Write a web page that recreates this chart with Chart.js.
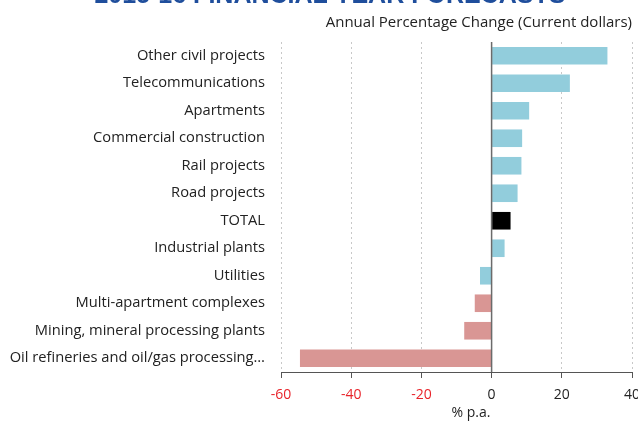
<!DOCTYPE html>
<html>
<head>
<meta charset="utf-8">
<script src="https://cdn.jsdelivr.net/npm/chart.js@4/dist/chart.umd.min.js"></script>
<style>
  html, body { margin: 0; padding: 0; background: #fff; overflow: hidden; }
  #wrap { width: 638px; height: 421px; overflow: hidden; position: relative; }
  #chart { position: absolute; left: 0; top: -18px; }
</style>
</head>
<body>
<div id="wrap"><canvas id="chart" width="638" height="439"></canvas></div>
<script>
const categories = [
  "Other civil projects",
  "Telecommunications",
  "Apartments",
  "Commercial construction",
  "Rail projects",
  "Road projects",
  "TOTAL",
  "Industrial plants",
  "Utilities",
  "Multi-apartment complexes",
  "Mining, mineral processing plants",
  "Oil refineries and oil/gas processing\u2026"
];
const changes = [33.0, 22.3, 10.7, 8.7, 8.5, 7.4, 5.4, 3.7, -3.3, -4.8, -7.8, -54.6];
const xTicks = [-60, -40, -20, 0, 20, 40];

const FONT = "'Open Sans', sans-serif";

// bar colours: TOTAL black, big declines red, rest light blue
const barColors = categories.map((c, i) => {
  if (c === "TOTAL") return "#000000";
  if (changes[i] < -4) return "#d99694";
  return "#92cddc";
});

// solid zero line drawn at the scale's own 0 position
const zeroLine = {
  id: "zeroLine",
  afterDatasetsDraw(chart) {
    const x = chart.scales.x.getPixelForValue(0);
    const { top, bottom } = chart.chartArea;
    const ctx = chart.ctx;
    ctx.save();
    ctx.strokeStyle = "#6b6b6b";
    ctx.lineWidth = 1.5;
    ctx.beginPath();
    ctx.moveTo(x, top);
    ctx.lineTo(x, bottom);
    ctx.stroke();
    ctx.restore();
  }
};

new Chart(document.getElementById("chart"), {
  type: "bar",
  data: {
    labels: categories,
    datasets: [{
      data: changes,
      backgroundColor: barColors,
      borderWidth: 0,
      barPercentage: 0.64,
      categoryPercentage: 1
    }]
  },
  options: {
    indexAxis: "y",
    responsive: false,
    animation: false,
    layout: { padding: { left: 0, right: 6, top: 0, bottom: 0 } },
    plugins: {
      legend: { display: false },
      tooltip: { enabled: false },
      title: {
        display: true,
        text: "    2015-16 FINANCIAL YEAR FORECASTS",
        color: "#1f4e9c",
        font: { family: "'Liberation Sans', Arial, sans-serif", size: 25, weight: "bold", lineHeight: 1 },
        padding: { top: 2, bottom: 5 }
      },
      subtitle: {
        display: true,
        text: "Annual Percentage Change (Current dollars)",
        align: "end",
        color: "#222",
        font: { family: FONT, size: 15 },
        padding: { top: 0, bottom: 10 }
      }
    },
    scales: {
      x: {
        min: -60,
        max: 40,
        afterBuildTicks(scale) {
          scale.ticks = xTicks.map(v => ({ value: v }));
        },
        afterFit(scale) {
          scale.height = 49;
          scale.paddingRight = 0;
        },
        ticks: {
          color: ctx => (ctx.tick.value < 0 ? "#e8232a" : "#222"),
          font: { family: FONT, size: 14 },
          padding: 9
        },
        grid: {
          color: "#c8c8c8",
          lineWidth: 1,
          tickColor: "#555",
          tickLength: 6,
          tickBorderDash: []
        },
        border: { display: true, color: "#555", width: 1, dash: [2, 3] },
        title: {
          display: true,
          text: "        % p.a.",
          color: "#222",
          font: { family: FONT, size: 14 },
          padding: { top: 0, bottom: 0 }
        }
      },
      y: {
        afterFit(scale) { scale.width = 281; },
        ticks: {
          color: "#222",
          font: { family: FONT, size: 14.7 },
          padding: 16
        },
        grid: { display: false, drawTicks: false },
        border: { display: false }
      }
    }
  },
  plugins: [zeroLine]
});
</script>
</body>
</html>
